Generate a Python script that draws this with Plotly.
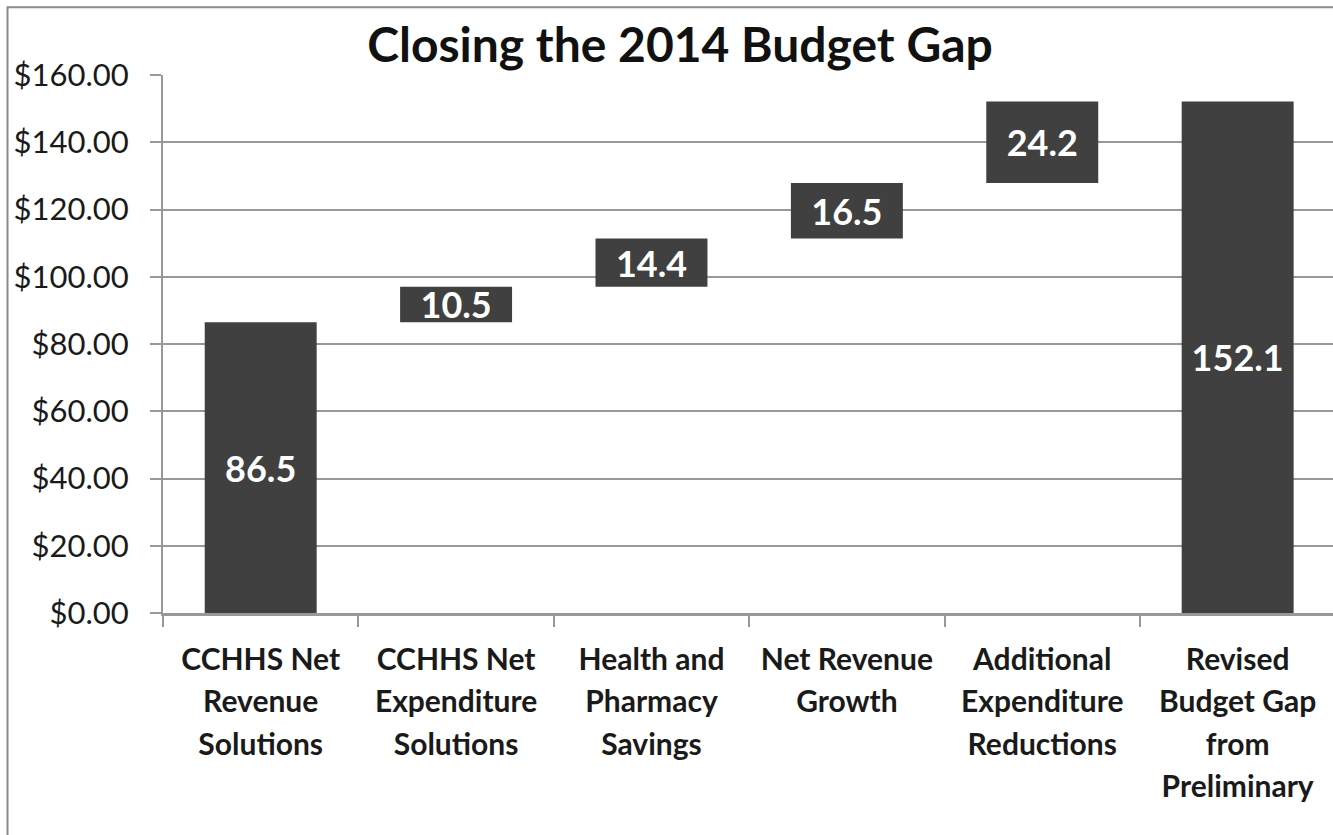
import plotly.graph_objects as go

# Budget-gap components (millions of dollars)
categories = [
    "CCHHS Net<br>Revenue<br>Solutions",
    "CCHHS Net<br>Expenditure<br>Solutions",
    "Health and<br>Pharmacy<br>Savings",
    "Net Revenue<br>Growth",
    "Additional<br>Expenditure<br>Reductions",
    "Revised<br>Budget Gap<br>from<br>Preliminary",
]
values = [86.5, 10.5, 14.4, 16.5, 24.2, 152.1]
is_total = [False, False, False, False, False, True]
y_ticks = [0, 20, 40, 60, 80, 100, 120, 140, 160]

# Floating bars: each step starts where the running total left off
bases = []
running = 0.0
for v, tot in zip(values, is_total):
    if tot:
        bases.append(0.0)
    else:
        bases.append(running)
        running += v

BAR = "#404040"
GRID = "#989898"
FONT = "Lato"
LABEL_PX = 30


def styled(label):
    # each line drawn at LABEL_PX while the wider base font sets the line pitch
    return "<br>".join(
        f"<span style='font-size:{LABEL_PX}px'>{part}</span>" for part in label.split("<br>")
    )


fig = go.Figure(
    go.Bar(
        x=categories,
        y=values,
        base=bases,
        width=0.573,
        marker=dict(color=BAR, line=dict(width=0)),
        text=[f"{v:.1f}" for v in values],
        textposition="inside",
        insidetextanchor="middle",
        constraintext="none",
        textangle=0,
        textfont=dict(family=FONT, size=36, color="white", weight="bold"),
        hoverinfo="skip",
    )
)

fig.update_layout(
    width=1333,
    height=835,
    margin=dict(l=163, r=0, t=75, b=222),
    paper_bgcolor="white",
    plot_bgcolor="white",
    showlegend=False,
    title=dict(
        text="Closing the 2014 Budget Gap",
        x=680 / 1333,
        xanchor="center",
        y=1 - 45 / 835,
        yanchor="middle",
        font=dict(family=FONT, size=48, color="#111111", weight="bold"),
    ),
    shapes=[
        dict(
            type="rect",
            xref="paper",
            yref="paper",
            x0=(7.5 - 163) / 1170,
            x1=(1400 - 163) / 1170,
            y0=(613.3 - 900) / 538,
            y1=(613.3 - 7.5) / 538,
            line=dict(color="#8a8a8a", width=2),
            fillcolor="rgba(0,0,0,0)",
            layer="below",
        )
    ],
)

fig.update_xaxes(
    type="category",
    range=[-0.5, 5.488],
    tickmode="array",
    tickvals=categories,
    ticktext=[styled(c) for c in categories],
    showgrid=False,
    showline=True,
    linecolor=GRID,
    linewidth=3,
    ticks="outside",
    tickson="boundaries",
    ticklen=11,
    tickwidth=2,
    tickcolor=GRID,
    tickangle=0,
    ticklabelstandoff=15,
    tickfont=dict(family=FONT, size=32.5, color="#1a1a1a", weight="bold"),
    fixedrange=True,
)

fig.update_yaxes(
    range=[0, 160],
    tickvals=y_ticks,
    tickformat="$,.2f",
    showgrid=True,
    gridcolor=GRID,
    gridwidth=2,
    showline=True,
    linecolor=GRID,
    linewidth=2,
    ticks="outside",
    ticklen=11,
    tickwidth=2,
    tickcolor=GRID,
    ticklabelstandoff=15,
    tickfont=dict(family=FONT, size=31, color="#1a1a1a"),
    zeroline=False,
    fixedrange=True,
)

fig.write_html("out.html")
